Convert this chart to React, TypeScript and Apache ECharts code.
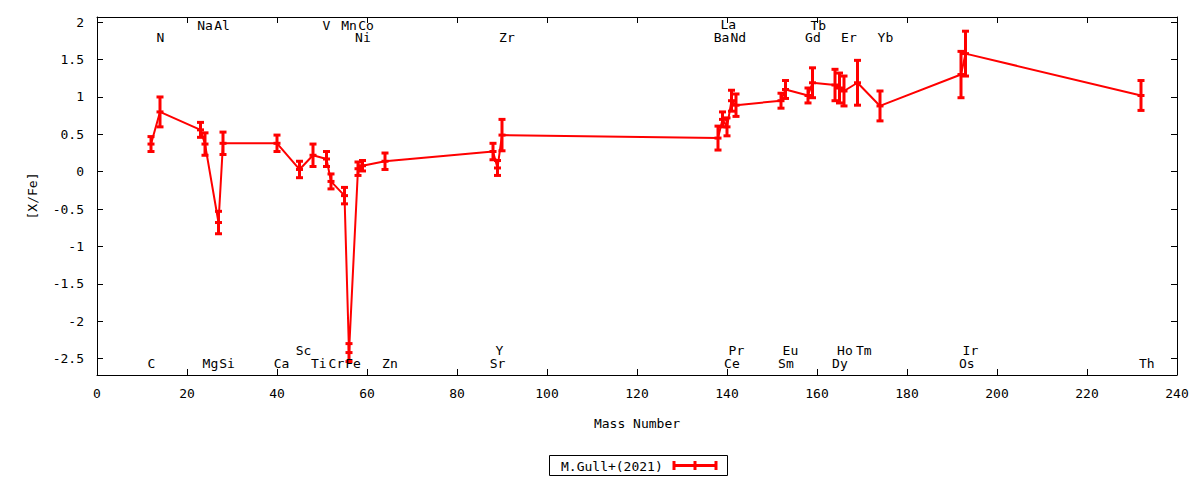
import React, { useEffect, useRef } from "react";
import * as echarts from "echarts";

// ---- data ----
const elements = ["C","N","Na","Mg","Al","Si","Ca","Sc","Ti","V","Cr","Mn","Fe","Ni","Co","Zn","Sr","Y","Zr","Ba","La","Ce","Pr","Nd","Sm","Eu","Gd","Tb","Dy","Ho","Er","Tm","Yb","Os","Ir","Th"];
const masses = [12,14,23,24,27,28,40,45,48,51,52,55,56,58,59,64,88,89,90,138,139,140,141,142,152,153,158,159,164,165,166,169,174,192,193,232];
const values = [0.37,0.80,0.56,0.37,-0.68,0.38,0.38,0.03,0.22,0.17,-0.13,-0.32,-2.42,0.04,0.08,0.14,0.27,0.05,0.49,0.45,0.70,0.60,0.95,0.89,0.95,1.10,1.02,1.19,1.16,1.12,1.08,1.19,0.88,1.30,1.58,1.02];
const errors = [0.10,0.20,0.10,0.15,0.15,0.15,0.11,0.11,0.15,0.10,0.10,0.11,0.12,0.09,0.07,0.11,0.11,0.10,0.21,0.16,0.10,0.12,0.14,0.15,0.10,0.12,0.10,0.20,0.21,0.20,0.20,0.30,0.20,0.31,0.30,0.20];

// element name annotations (anchor mass, [X/Fe] level)
const labelNames = ["Na","Al","V","Mn","Co","La","Tb",
  "N","Ni","Zr","Ba","Nd","Gd","Er","Yb",
  "Sc","Y","Pr","Eu","Ho","Tm","Ir",
  "C","Mg","Si","Ca","Ti","Cr","Fe","Zn","Sr","Ce","Sm","Dy","Os","Th"];
const labelMass = [24.0,27.8,51.0,56.0,59.8,140.3,160.3,
  14.1,59.1,91.1,138.8,142.5,159.1,167.1,175.2,
  45.9,89.4,142.1,154.1,166.2,170.4,194.1,
  12.1,25.2,28.9,41.0,49.3,53.2,56.9,65.1,89.0,141.1,153.1,165.1,193.3,233.3];
const labelLevel = [1.95,1.95,1.95,1.95,1.95,1.97,1.95,
  1.80,1.80,1.80,1.80,1.80,1.80,1.80,1.80,
  -2.39,-2.39,-2.39,-2.39,-2.39,-2.39,-2.39,
  -2.57,-2.57,-2.57,-2.57,-2.57,-2.57,-2.57,-2.57,-2.57,-2.57,-2.57,-2.57,-2.57,-2.57];

const xTicks = { min: 0, max: 240, step: 20 };
const yTickValues = [-2.5,-2,-1.5,-1,-0.5,0,0.5,1,1.5,2];
const yRange = { min: -2.72, max: 2.07 };
const seriesName = "M.Gull+(2021)";

const FONT = '"DejaVu Sans Mono", monospace';
const RED = "#ff0000";

export default function App() {
  const ref = useRef<HTMLDivElement>(null);
  useEffect(() => {
    if (!ref.current) return;
    const chart = echarts.init(ref.current, null, { renderer: "svg" });
    const lineData = masses.map((m, i) => [m, values[i]]);
    const errData = masses.map((m, i) => [m, values[i], errors[i]]);
    const labData = labelMass.map((m, i) => [m, labelLevel[i]]);

    const axisCommon = {
      axisLine: { show: true, onZero: false, lineStyle: { color: "#000", width: 1 } },
      splitLine: { show: false },
    };

    chart.setOption({
      animation: false,
      textStyle: { fontFamily: FONT },
      grid: { left: 97, right: 23, top: 17, bottom: 105, show: false },
      xAxis: [
        {
          type: "value", min: xTicks.min, max: xTicks.max, interval: xTicks.step, position: "bottom",
          ...axisCommon,
          axisTick: { show: true, inside: true, length: 6, lineStyle: { color: "#000" } },
          axisLabel: { color: "#000", fontSize: 13, fontFamily: FONT, margin: 12 },
          name: "Mass Number", nameLocation: "middle", nameGap: 42,
          nameTextStyle: { color: "#000", fontSize: 13, fontFamily: FONT },
        },
        {
          type: "value", min: xTicks.min, max: xTicks.max, interval: xTicks.step, position: "top",
          ...axisCommon,
          axisTick: { show: true, inside: true, length: 6, lineStyle: { color: "#000" } },
          axisLabel: { show: false },
        },
      ],
      yAxis: [
        {
          type: "value", min: yRange.min, max: yRange.max, position: "left",
          ...axisCommon,
          axisTick: { show: true, inside: true, length: 6, customValues: yTickValues, lineStyle: { color: "#000" } },
          axisLabel: { color: "#000", fontSize: 13, fontFamily: FONT, margin: 13, customValues: yTickValues },
          name: "[X/Fe]", nameLocation: "middle", nameGap: 58, nameRotate: 90,
          nameTextStyle: { color: "#000", fontSize: 13, fontFamily: FONT },
        },
        {
          type: "value", min: yRange.min, max: yRange.max, position: "right",
          ...axisCommon,
          axisTick: { show: true, inside: true, length: 6, customValues: yTickValues, lineStyle: { color: "#000" } },
          axisLabel: { show: false, customValues: yTickValues },
        },
      ],
      series: [
        {
          name: seriesName, type: "line", data: lineData, xAxisIndex: 0, yAxisIndex: 0,
          symbol: "none", lineStyle: { color: RED, width: 2 }, itemStyle: { color: RED }, z: 2,
        },
        {
          type: "custom", data: errData, xAxisIndex: 0, yAxisIndex: 0, z: 3,
          encode: { x: 0, y: 1 },
          renderItem: (params: any, api: any) => {
            const x = api.value(0), y = api.value(1), e = api.value(2);
            const pc = api.coord([x, y]);
            const pt = api.coord([x, y + e]);
            const pb = api.coord([x, y - e]);
            const hw = 3.5;
            const st = { stroke: RED, lineWidth: 3 };
            return {
              type: "group",
              children: [
                { type: "line", shape: { x1: pc[0], y1: pt[1], x2: pc[0], y2: pb[1] }, style: st },
                { type: "line", shape: { x1: pc[0] - hw, y1: pt[1], x2: pc[0] + hw, y2: pt[1] }, style: st },
                { type: "line", shape: { x1: pc[0] - hw, y1: pb[1], x2: pc[0] + hw, y2: pb[1] }, style: st },
                { type: "line", shape: { x1: pc[0] - hw, y1: pc[1], x2: pc[0] + hw, y2: pc[1] }, style: st },
              ],
            };
          },
        },
        {
          type: "custom", data: labData, xAxisIndex: 0, yAxisIndex: 0, z: 4,
          encode: { x: 0, y: 1 },
          renderItem: (params: any, api: any) => {
            const p = api.coord([api.value(0), api.value(1)]);
            return {
              type: "text", x: p[0], y: p[1],
              style: {
                text: labelNames[params.dataIndex], fill: "#000", font: `13px ${FONT}`,
                align: "center", verticalAlign: "middle", textAlign: "center", textVerticalAlign: "middle",
              },
            };
          },
        },
      ],
      graphic: [
        { type: "rect", shape: { x: 549.5, y: 455.5, width: 178, height: 20 }, style: { fill: "#fff", stroke: "#000", lineWidth: 1 } },
        { type: "text", x: 561, y: 466, style: { text: seriesName, fill: "#000", font: `13px ${FONT}`, textVerticalAlign: "middle", verticalAlign: "middle" } },
        { type: "line", shape: { x1: 674, y1: 465.5, x2: 716, y2: 465.5 }, style: { stroke: RED, lineWidth: 3 } },
        { type: "line", shape: { x1: 674, y1: 461, x2: 674, y2: 470 }, style: { stroke: RED, lineWidth: 3 } },
        { type: "line", shape: { x1: 695, y1: 461, x2: 695, y2: 470 }, style: { stroke: RED, lineWidth: 3 } },
        { type: "line", shape: { x1: 716, y1: 461, x2: 716, y2: 470 }, style: { stroke: RED, lineWidth: 3 } },
      ],
    });
    return () => chart.dispose();
  }, []);
  return <div ref={ref} style={{ position: "fixed", left: 0, top: 0, width: 1200, height: 480, background: "#fff" }} />;
}
